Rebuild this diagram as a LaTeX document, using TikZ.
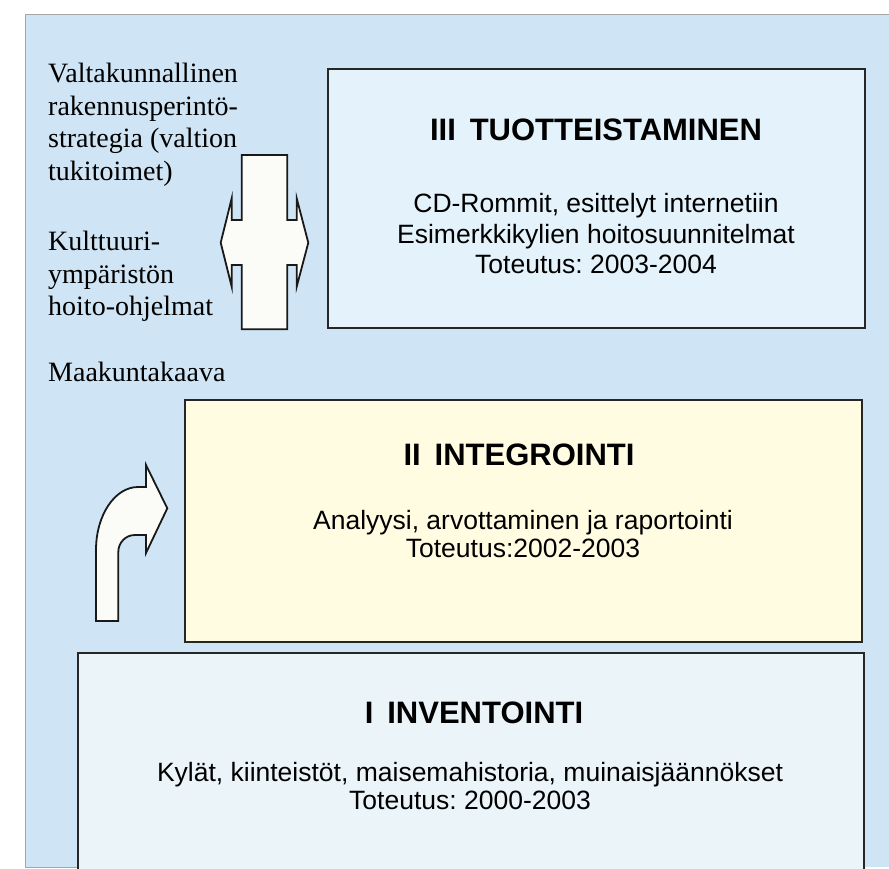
\documentclass[tikz,border=0pt]{standalone}
\usepackage{fontspec}
\setmainfont{Liberation Serif}
\setsansfont{Liberation Sans}
\usetikzlibrary{positioning}

\definecolor{bgblue}{RGB}{207,228,244}
\definecolor{phaseblue}{RGB}{227,242,251}
\definecolor{phaseyellow}{RGB}{255,252,226}
\definecolor{phasepale}{RGB}{235,244,249}
\definecolor{arrowfill}{RGB}{251,252,247}

\frenchspacing

\begin{document}
\begin{tikzpicture}[
        x=1pt, y=-1pt,
        phase/.style={
            draw=black!85,
            line width=1.8pt,
            inner sep=0pt,
            anchor=north west
        },
        title/.style={
            font=\sffamily\bfseries\fontsize{31}{35}\selectfont
        },
        body/.style={
            font=\sffamily\fontsize{26.5}{28}\selectfont,
            align=center
        },
        side/.style={
            font=\rmfamily\fontsize{28}{32.5}\selectfont,
            align=left,
            inner sep=0pt
        },
        outline/.style={
            draw=black!90,
            line width=1.8pt,
            line join=miter
        }
    ]
        \useasboundingbox (0,0) rectangle (889,869);

        % --- Taustakehys ---
        \fill[bgblue] (25,14) rectangle (889,867);
        \draw[gray!70, line width=0.6pt] (889,14) -- (25,14) -- (25,867) -- (80,867);

        % --- 3. Tuotteistaminen ---
        \node[phase, fill=phaseblue, minimum width=537pt, minimum height=259pt] (prod) at (327,68) {};
        \node[title] (prodtitle) at (596,130) {III\hspace{0.45em}TUOTTEISTAMINEN};
        \node[body, font=\sffamily\fontsize{26.5}{30.5}\selectfont] (prodtext) at (596,234) {CD-Rommit, esittelyt internetiin\\
            Esimerkkikylien hoitosuunnitelmat\\
            Toteutus: 2003-2004};

        % --- 2. Integrointi ---
        \node[phase, fill=phaseyellow, minimum width=677pt, minimum height=242pt] (integ) at (184,399) {};
        \node[title] (integtitle) at (519,455) {II\hspace{0.45em}INTEGROINTI};
        \node[body] (integtext) at (523,534) {Analyysi, arvottaminen ja raportointi\\
            Toteutus:2002-2003};

        % --- 1. Inventointi ---
        \node[phase, fill=phasepale, minimum width=786pt, minimum height=230pt] (inv) at (77,652) {};
        \node[title] (invtitle) at (474,713) {I\hspace{0.45em}INVENTOINTI};
        \node[body] (invtext) at (470,786) {Kylät, kiinteistöt, maisemahistoria, muinaisjäännökset\\
            Toteutus: 2000-2003};

        % --- Ohjaavat asiakirjat ---
        \node[side, anchor=north west] (strategy) at (48,63) {Valtakunnallinen\\
            rakennusperintö-\\
            strategia (valtion\\
            tukitoimet)};
        \node[side, anchor=north west] (programme) at (48,231) {Kulttuuri-\\
            ympäristön\\
            hoito-ohjelmat};
        \node[side, anchor=base west] (plan) at (48,381) {Maakuntakaava};

        % --- Kaksisuuntainen nuoli ---
        \draw[outline, fill=arrowfill]
            (241.7,155) -- (287.3,155) -- (287.3,220) -- (296.7,220) -- (296.7,198.3)
            -- (308.3,242.7) -- (296.7,286.7) -- (296.7,265) -- (287.3,265)
            -- (287.3,329.3) -- (241.7,329.3) -- (241.7,265) -- (231.7,265)
            -- (231.7,286.7) -- (220.7,242.7) -- (231.7,198.3) -- (231.7,220)
            -- (241.7,220) -- cycle;

        % --- Kääntyvä nuoli ---
        \draw[outline, fill=arrowfill]
            (96,621) -- (96,550) .. controls (96,515) and (115,487) .. (138,487)
            -- (146,487) -- (146,465) -- (167.3,508.3) -- (146,553) -- (146,535)
            -- (135,535) .. controls (125.6,535) and (118.3,542.6) .. (118.3,552)
            -- (118.3,621) -- cycle;
    \end{tikzpicture}
\end{document}
